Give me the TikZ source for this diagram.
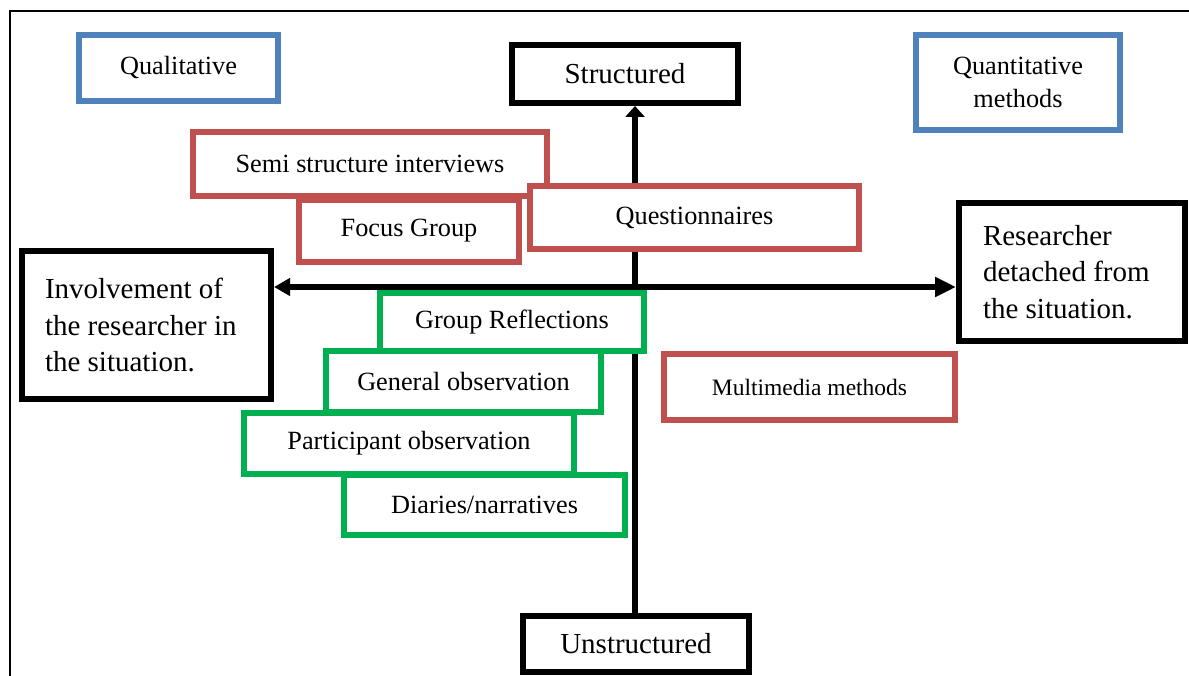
\documentclass[tikz,border=0pt]{standalone}
\usepackage{fontspec}
\setmainfont{Liberation Serif}
\usetikzlibrary{arrows.meta}
\pgfdeclarelayer{background}
\pgfsetlayers{background,main}
\definecolor{qblue}{RGB}{79,129,189}
\definecolor{mred}{RGB}{192,80,77}
\definecolor{ogreen}{RGB}{0,176,80}
\newcommand\txtsmall{\fontsize{26.3}{33}\selectfont}
\newcommand\txtbig{\fontsize{29}{36.5}\selectfont}
\newcommand\txtmm{\fontsize{23.5}{29}\selectfont}

\begin{document}
\begin{tikzpicture}[x=1pt,y=-1pt,
  box/.style={draw, line width=6pt, fill=white, inner sep=0pt, align=center, font=\txtsmall},
  axisbox/.style={box, draw=black, font=\txtbig},
  kindbox/.style={box, draw=qblue},
  methodbox/.style={box, draw=mred},
  obsbox/.style={box, draw=ogreen},
  axisline/.style={line width=5.5pt, black},
  frameline/.style={line width=2.5pt, black}]
\useasboundingbox (0,0) rectangle (1189,676);
\clip (0,0) rectangle (1189,676);

% method families
\node[kindbox, minimum width=199pt, minimum height=66pt] (qual) at (178.5,68) {Qualitative};
\node[kindbox, minimum width=204pt, minimum height=95pt] (quant) at (1018,82.5) {Quantitative\\methods};

% ends of the two axes
\node[axisbox, minimum width=226pt, minimum height=58pt] (str) at (625,74) {Structured};
\node[axisbox, minimum width=226pt, minimum height=56pt] (unst) at (636,644) {Unstructured};
\node[axisbox, align=flush left, text width=203pt, minimum width=249pt, minimum height=148pt] (inv) at (146.5,325)
  {Involvement of\\the researcher in\\the situation.};
\node[axisbox, align=flush left, text width=178pt, minimum width=226pt, minimum height=138pt] (det) at (1072,272)
  {Researcher\\detached from\\the situation.};

% structured methods
\node[methodbox, minimum width=354pt, minimum height=64pt] (semi) at (370,164) {Semi structure interviews};
\node[methodbox, minimum width=220pt, minimum height=62pt] (focus) at (409,231) {Focus Group};
\node[methodbox, minimum width=329pt, minimum height=63pt] (quest) at (694.5,217.5) {Questionnaires};
\node[methodbox, font=\txtmm, minimum width=291pt, minimum height=66pt] (multi) at (809.5,387) {Multimedia methods};

% observational methods
\node[obsbox, minimum width=264pt, minimum height=58pt] (grp) at (512,322) {Group Reflections};
\node[obsbox, minimum width=275pt, minimum height=61pt] (gen) at (463.5,381.5) {General observation};
\node[obsbox, minimum width=330pt, minimum height=61pt] (part) at (409,443.5) {Participant observation};
\node[obsbox, minimum width=281pt, minimum height=60pt] (diary) at (484.5,505) {Diaries/narratives};

% axes and frame, beneath the boxes
\coordinate (cross) at (635,287);
\coordinate (fbl) at (10,700);
\coordinate (ftl) at (10,11);
\coordinate (ftr) at (1200,11);
\begin{pgfonlayer}{background}
  \draw[frameline] (fbl) -- (ftl) -- (ftr);
  \draw[axisline, {Triangle[length=16pt,width=17pt]}-{Triangle[length=21pt,width=19pt]}]
    (inv.east |- cross) -- (det.west |- cross);
  \draw[axisline, -{Triangle[length=11pt,width=19pt]}]
    (unst.north -| cross) -- (str.south -| cross);
\end{pgfonlayer}
\end{tikzpicture}
\end{document}
